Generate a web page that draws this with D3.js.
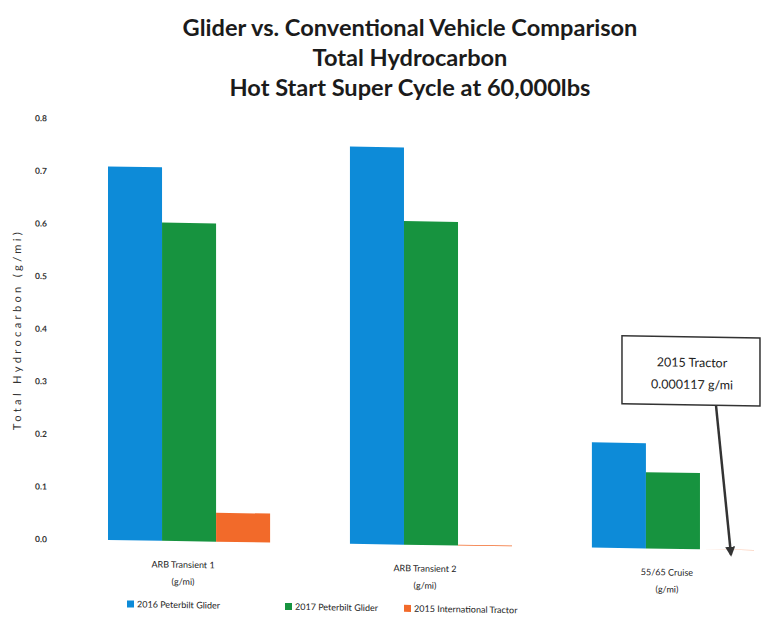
<!DOCTYPE html>
<html>
<head>
<meta charset="utf-8">
<script src="https://cdn.jsdelivr.net/npm/d3@7/dist/d3.min.js"></script>
<style>
  html, body { margin: 0; padding: 0; background: #fff; }
  svg { display: block; }
  text { font-family: Lato, "Open Sans", "DejaVu Sans", sans-serif; }
</style>
</head>
<body>
<svg id="chart" width="766" height="637"></svg>
<script>
// ---------- data ----------
const categories = ["ARB Transient 1", "ARB Transient 2", "55/65 Cruise"];
const categoryUnits = ["(g/mi)", "(g/mi)", "(g/mi)"];
const seriesNames = ["2016 Peterbilt Glider", "2017 Peterbilt Glider", "2015 International Tractor"];
const glider2016 = [0.71, 0.755, 0.20];
const glider2017 = [0.605, 0.615, 0.145];
const tractor2015 = [0.055, 0.0015, 0.000117];
const yTicks = [0, 0.1, 0.2, 0.3, 0.4, 0.5, 0.6, 0.7, 0.8];
const titleLines = [
  "Glider vs. Conventional Vehicle Comparison",
  "Total Hydrocarbon",
  "Hot Start Super Cycle at 60,000lbs"
];
const yAxisTitle = "Total Hydrocarbon  (g/mi)";
const annotationLines = ["2015 Tractor", "0.000117 g/mi"];
const annotationValue = 0.000117;

// ---------- layout / style ----------
const colors = ["#0d8bd8", "#17933f", "#f26a2a"];
const seriesValues = [glider2016, glider2017, tractor2015];
const rows = categories.map((c, i) => ({
  cat: c, unit: categoryUnits[i],
  vals: seriesNames.map((s, j) => ({ s, v: seriesValues[j][i], j }))
}));

const svg = d3.select("#chart");

// Title (not skewed)
const titleG = svg.append("g");
const titleBase = [36, 66, 96];
const titleTargetW = 455;
const t0 = titleG.append("text").attr("font-weight", "bold").attr("font-size", 20).text(titleLines[0]);
const w0 = t0.node().getComputedTextLength();
t0.remove();
const titleSize = 20 * titleTargetW / w0;
titleG.selectAll("text.title").data(titleLines).join("text")
  .attr("class", "title")
  .attr("x", 410).attr("y", (d, i) => titleBase[i])
  .attr("text-anchor", "middle")
  .attr("font-weight", "bold")
  .attr("font-size", titleSize)
  .attr("fill", "#1b1b1b")
  .text(d => d);

// Plot (slightly skewed like the scanned page)
const g = svg.append("g").attr("transform", "skewY(0.9)");

const y = d3.scaleLinear().domain([0, 0.8]).range([538.3, 117.4]);
const x0 = d3.scaleBand().domain(categories).range([108, 754]).paddingInner(0.33).paddingOuter(0);
const x1 = d3.scaleBand().domain(seriesNames).range([0, x0.bandwidth()]).padding(0);

// Y axis (labels only)
const yAxis = d3.axisLeft(y).tickValues(yTicks).tickFormat(d3.format(".1f")).tickSize(0).tickPadding(0);
const yAxisG = g.append("g").attr("transform", "translate(47,0)").call(yAxis);
yAxisG.select(".domain").remove();
yAxisG.selectAll("text").attr("font-size", 8.5).attr("fill", "#333")
  .attr("font-weight", "bold")
  .attr("font-family", "Lato, 'Open Sans', sans-serif");

g.append("text")
  .attr("transform", "translate(21,331) rotate(-90)")
  .attr("text-anchor", "middle")
  .attr("font-size", 11)
  .attr("fill", "#333")
  .attr("textLength", 198)
  .attr("lengthAdjust", "spacing")
  .text(yAxisTitle);

// Bars
const groups = g.selectAll("g.grp").data(rows).join("g")
  .attr("class", "grp")
  .attr("transform", d => `translate(${x0(d.cat)},0)`);
groups.selectAll("rect").data(d => d.vals).join("rect")
  .attr("x", d => x1(d.s))
  .attr("width", x1.bandwidth())
  .attr("y", d => y(d.v))
  .attr("height", d => y(0) - y(d.v))
  .attr("fill", d => colors[d.j]);

// Category labels
const catG = g.selectAll("g.cat").data(rows).join("g")
  .attr("class", "cat")
  .attr("transform", d => `translate(${x0(d.cat) + x0.bandwidth() / 2 - 6},0)`);
catG.append("text").attr("y", 565).attr("text-anchor", "middle")
  .attr("font-size", 9).attr("fill", "#222").text(d => d.cat);
catG.append("text").attr("y", 582).attr("text-anchor", "middle")
  .attr("font-size", 9).attr("fill", "#222").text(d => d.unit);

// Legend
const legendX = [127, 285, 404];
const legendG = g.selectAll("g.leg").data(seriesNames).join("g")
  .attr("class", "leg")
  .attr("transform", (d, i) => `translate(${legendX[i]},602)`);
legendG.append("rect").attr("x", 0).attr("y", -3.5).attr("width", 7).attr("height", 7)
  .attr("fill", (d, i) => colors[i]);
legendG.append("text").attr("x", 10).attr("y", 3.2).attr("font-size", 9)
  .attr("fill", "#222").text(d => d);

// Annotation callout for the tiny 2015 tractor value
const lastCat = categories[categories.length - 1];
const tipX = x0(lastCat) + x1(seriesNames[2]) + x1.bandwidth() / 2;
const tipY = y(annotationValue) + 5;
const boxL = tipX - 105, boxR = tipX + 33, boxT = 326, boxB = 394;

const defs = svg.append("defs");
defs.append("marker").attr("id", "arrow")
  .attr("viewBox", "0 0 10 10").attr("refX", 8).attr("refY", 5)
  .attr("markerWidth", 4).attr("markerHeight", 4).attr("orient", "auto")
  .attr("markerUnits", "strokeWidth")
  .append("path").attr("d", "M0,0 L10,5 L0,10 z").attr("fill", "#333");

g.append("line")
  .attr("x1", boxL + 94).attr("y1", boxB)
  .attr("x2", tipX + 4).attr("y2", tipY)
  .attr("stroke", "#333").attr("stroke-width", 2.5)
  .attr("marker-end", "url(#arrow)");

g.append("rect")
  .attr("x", boxL).attr("y", boxT).attr("width", boxR - boxL).attr("height", boxB - boxT)
  .attr("fill", "#fff").attr("stroke", "#333").attr("stroke-width", 1.5);

g.selectAll("text.ann").data(annotationLines).join("text")
  .attr("class", "ann")
  .attr("x", (boxL + boxR) / 2 + 1)
  .attr("y", (d, i) => 356 + i * 22)
  .attr("text-anchor", "middle")
  .attr("font-size", 12.5)
  .attr("fill", "#222")
  .text(d => d);
</script>
</body>
</html>
